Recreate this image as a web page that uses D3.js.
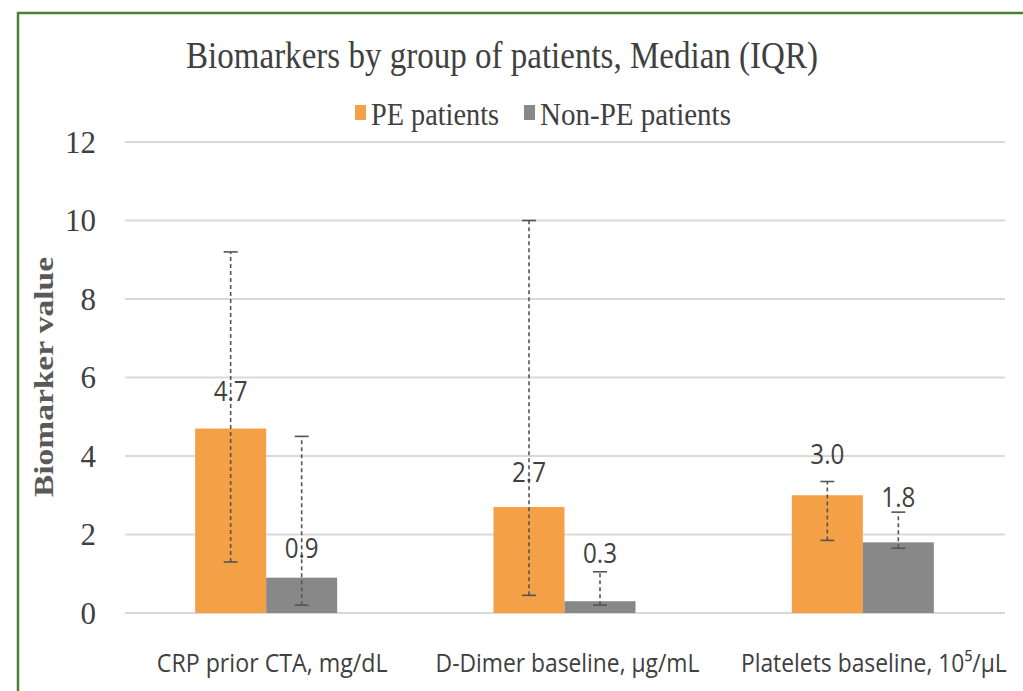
<!DOCTYPE html>
<html><head><meta charset="utf-8">
<script src="https://cdn.jsdelivr.net/npm/d3@7"></script>
<style>body{margin:0;background:#fff}svg{display:block}</style>
</head><body>
<svg id="c" width="1023" height="691"></svg>
<script>
const categories = ["CRP prior CTA, mg/dL", "D-Dimer baseline, μg/mL", "Platelets baseline, 10⁵/μL"];
const seriesNames = ["PE patients", "Non-PE patients"];
const peMedian = [4.7, 2.7, 3.0];
const nonPeMedian = [0.9, 0.3, 1.8];
const peLow = [1.3, 0.45, 1.85];
const peHigh = [9.2, 10.0, 3.35];
const nonPeLow = [0.2, 0.2, 1.65];
const nonPeHigh = [4.5, 1.05, 2.57];
const yTicks = [0, 2, 4, 6, 8, 10, 12];

const colors = ["#F4A046", "#888888"];
const labelOffsets = [[38, 35, 41], [30, 48, 45]];
const svg = d3.select("#c");

// border
svg.append("rect").attr("x", 18).attr("y", 13).attr("width", 1020).attr("height", 700)
  .attr("fill", "none").attr("stroke", "#4E7F32").attr("stroke-width", 2.5);

const x0 = d3.scaleBand().domain(categories).range([117, 1012]);
const x1 = d3.scaleBand().domain(seriesNames).range([0, 142]);
const y = d3.scaleLinear().domain([0, 12]).range([613, 142]);

// gridlines
svg.append("g").selectAll("line").data(yTicks).join("line")
  .attr("x1", 125).attr("x2", 1005)
  .attr("y1", d => y(d)).attr("y2", d => y(d))
  .attr("stroke", "#d9d9d9").attr("stroke-width", 2);

// y axis labels
const yAxis = d3.axisLeft(y).tickValues(yTicks).tickSize(0).tickPadding(0);
const gy = svg.append("g").attr("transform", "translate(96,0)").call(yAxis);
gy.select(".domain").remove();
gy.selectAll("text").attr("font-family", "Liberation Serif, serif").attr("font-size", 31)
  .attr("fill", "#404040").attr("dy", "0.33em");

// helper: horizontally condense a text to a target width
function fitWidth(sel, cx, cy, w) {
  const nat = sel.node().getComputedTextLength();
  const k = Math.min(1, w / nat);
  sel.attr("x", 0).attr("y", 0).attr("transform", `translate(${cx},${cy}) scale(${k},1)`);
}

// x axis labels
const gx = svg.append("g");
categories.forEach((c, i) => {
  const cx = x0(c) + x0.bandwidth() / 2 + [6, 3, 11][i];
  const t = gx.append("text").attr("text-anchor", "middle")
    .attr("font-family", "Open Sans, sans-serif").attr("font-size", 26).attr("fill", "#404040")
    .text(c);
  fitWidth(t, cx, 672, [231, 264, 266][i]);
});

const groups = [
  {name: seriesNames[0], med: peMedian, lo: peLow, hi: peHigh, color: colors[0]},
  {name: seriesNames[1], med: nonPeMedian, lo: nonPeLow, hi: nonPeHigh, color: colors[1]}
];
const gOff = (x0.bandwidth() - 142) / 2;

groups.forEach(s => {
  const g = svg.append("g");
  categories.forEach((c, i) => {
    const bx = x0(c) + gOff + x1(s.name);
    g.append("rect").attr("x", bx).attr("y", y(s.med[i])).attr("width", x1.bandwidth())
      .attr("height", y(0) - y(s.med[i])).attr("fill", s.color);
  });
});

// error bars & labels
groups.forEach((s, si) => {
  const g = svg.append("g");
  categories.forEach((c, i) => {
    const cx = x0(c) + gOff + x1(s.name) + x1.bandwidth() / 2;
    g.append("line").attr("x1", cx).attr("x2", cx).attr("y1", y(s.lo[i])).attr("y2", y(s.hi[i]))
      .attr("stroke", "#555").attr("stroke-width", 1.6).attr("stroke-dasharray", "4,3");
    [s.lo[i], s.hi[i]].forEach(v => {
      g.append("line").attr("x1", cx - 7).attr("x2", cx + 7).attr("y1", y(v)).attr("y2", y(v))
        .attr("stroke", "#555").attr("stroke-width", 1.6);
    });
    const t = g.append("text").attr("dy", "0.36em")
      .attr("text-anchor", "middle").attr("font-family", "Open Sans, sans-serif")
      .attr("font-size", 28).attr("fill", "#404040")
      .text(s.med[i].toFixed(1));
    fitWidth(t, cx, y(s.med[i]) - labelOffsets[si][i], 34);
  });
});

// title
const title = svg.append("text").attr("text-anchor", "middle")
  .attr("font-family", "Liberation Serif, serif").attr("font-size", 38).attr("fill", "#404040")
  .text("Biomarkers by group of patients, Median (IQR)");
fitWidth(title, 502, 68, 632);

// legend
const leg = svg.append("g");
const legX = [355, 524];
const legW = [128, 191];
seriesNames.forEach((n, i) => {
  leg.append("rect").attr("x", legX[i]).attr("y", 105).attr("width", 11).attr("height", 15).attr("fill", colors[i]);
  const t = leg.append("text").attr("text-anchor", "middle")
    .attr("font-family", "Liberation Serif, serif").attr("font-size", 31).attr("fill", "#404040")
    .text(n);
  fitWidth(t, legX[i] + 16 + legW[i] / 2, 125, legW[i]);
});

// y axis title
svg.append("text").attr("transform", "translate(53,377) rotate(-90)").attr("text-anchor", "middle")
  .attr("font-family", "Liberation Serif, serif").attr("font-weight", "bold").attr("font-size", 28)
  .attr("fill", "#595959").attr("textLength", 240).attr("lengthAdjust", "spacingAndGlyphs")
  .text("Biomarker value");
</script>
</body></html>
